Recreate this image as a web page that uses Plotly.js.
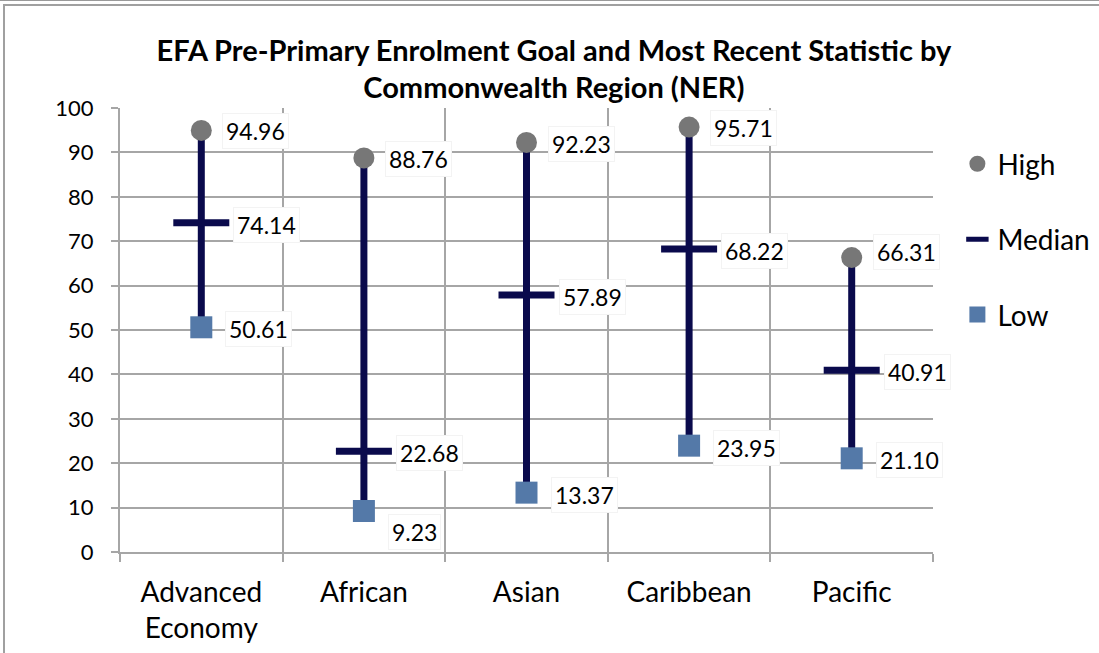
<!DOCTYPE html>
<html>
<head>
<meta charset="utf-8">
<script src="https://cdn.plot.ly/plotly-3.0.1.min.js"></script>
<style>
  html, body { margin:0; padding:0; background:#fff; }
  #wrap { position:relative; width:1099px; height:653px; overflow:hidden; }
  #chart { position:absolute; left:0; top:0; width:1099px; height:653px; }
  #bTop1 { position:absolute; left:0; top:0; width:1099px; height:1px; background:#9a9a9a; z-index:5; }
  #bTop2 { position:absolute; left:3px; top:4px; width:1096px; height:2px; background:#a0a0a0; z-index:5; }
  #bLeft { position:absolute; left:3px; top:4px; width:2px; height:649px; background:#a0a0a0; z-index:5; }
</style>
</head>
<body>
<div id="wrap">
  <div id="chart"></div>
  <div id="bTop1"></div><div id="bTop2"></div><div id="bLeft"></div>
</div>
<script>
// ---- data ----
const categories = ["Advanced<br>Economy", "African", "Asian", "Caribbean", "Pacific"];
const highValues   = [94.96, 88.76, 92.23, 95.71, 66.31];
const medianValues = [74.14, 22.68, 57.89, 68.22, 40.91];
const lowValues    = [50.61, 9.23, 13.37, 23.95, 21.10];
const yTickValues  = [0, 10, 20, 30, 40, 50, 60, 70, 80, 90, 100];

// ---- build ----
const xPos = categories.map((c, i) => i + 0.5);
const FONT = "Lato, 'Open Sans', sans-serif";
const NAVY = "#0a0a4c";

const lineX = [], lineY = [];
xPos.forEach((x, i) => { lineX.push(x, x, null); lineY.push(lowValues[i], highValues[i], null); });

const traces = [
  { x: lineX, y: lineY, mode: "lines", line: { color: NAVY, width: 7 }, showlegend: false, hoverinfo: "skip" },
  { x: xPos, y: highValues, mode: "markers", name: "High", legendgroup: "h",
    marker: { symbol: "circle", size: 21, color: "#777777" } },
  { x: xPos, y: medianValues, mode: "markers", name: "Median", legendgroup: "m",
    marker: { symbol: "line-ew", size: 40, color: NAVY, line: { color: NAVY, width: 7 } } },
  { x: xPos, y: lowValues, mode: "markers", name: "Low", legendgroup: "l",
    marker: { symbol: "square", size: 22, color: "#5479a8" } }
];

const fmt = v => v.toFixed(2);
const annotations = [];
function addLabels(vals, xshift, yshiftFn) {
  vals.forEach((v, i) => annotations.push({
    x: xPos[i], y: v, xref: "x", yref: "y", text: fmt(v), showarrow: false,
    xanchor: "left", yanchor: "middle", xshift: xshift, yshift: yshiftFn ? yshiftFn(v, i) : 0,
    font: { family: FONT, size: 23, color: "#000" },
    bgcolor: "#ffffff", bordercolor: "#f3f3f3", borderwidth: 1, borderpad: 3
  }));
}
addLabels(highValues, 21, (v, i) => (i === 4 ? 6 : -1));
addLabels(medianValues, 32, () => -2);
addLabels(lowValues, 24, (v, i) => (i === 1 ? -21 : -2));

const GRID = "#a6a6a6";
const layout = {
  width: 1099, height: 653,
  margin: { l: 120, r: 166, t: 108, b: 101, pad: 0, autoexpand: false },
  paper_bgcolor: "#ffffff", plot_bgcolor: "#ffffff",
  font: { family: FONT, color: "#000" },
  title: {
    text: "<b>EFA Pre-Primary Enrolment Goal and Most Recent Statistic by<br>Commonwealth Region (NER)</b>",
    font: { family: FONT, size: 29, color: "#000" },
    xref: "container", x: 0.504, xanchor: "center",
    yref: "container", y: 0.907, yanchor: "top"
  },
  xaxis: {
    range: [0, 5], tickmode: "array", tickvals: xPos, ticktext: categories,
    ticks: "", showgrid: false, zeroline: false,
    showline: true, linecolor: GRID, linewidth: 2,
    tickfont: { family: FONT, size: 28, color: "#000" },
    ticklabelstandoff: 14,
    minor: { tickmode: "linear", tick0: 0, dtick: 1, showgrid: true, gridcolor: GRID, gridwidth: 2,
             ticks: "outside", ticklen: 8, tickwidth: 2, tickcolor: GRID },
    fixedrange: true
  },
  yaxis: {
    range: [0, 100], tickmode: "array", tickvals: yTickValues,
    showgrid: true, gridcolor: GRID, gridwidth: 2, zeroline: false,
    showline: true, linecolor: GRID, linewidth: 2,
    ticks: "outside", ticklen: 7, tickwidth: 2, tickcolor: GRID,
    tickfont: { family: FONT, size: 22, color: "#000" },
    ticklabelstandoff: 13,
    fixedrange: true
  },
  showlegend: true,
  legend: {
    x: 1.03, xanchor: "left", y: 0.93, yanchor: "top",
    font: { family: FONT, size: 28, color: "#000" },
    traceorder: "grouped", tracegroupgap: 36, itemsizing: "trace",
    bgcolor: "rgba(0,0,0,0)"
  },
  annotations: annotations
};

Plotly.newPlot("chart", traces, layout, { displayModeBar: false, staticPlot: true });
</script>
</body>
</html>
